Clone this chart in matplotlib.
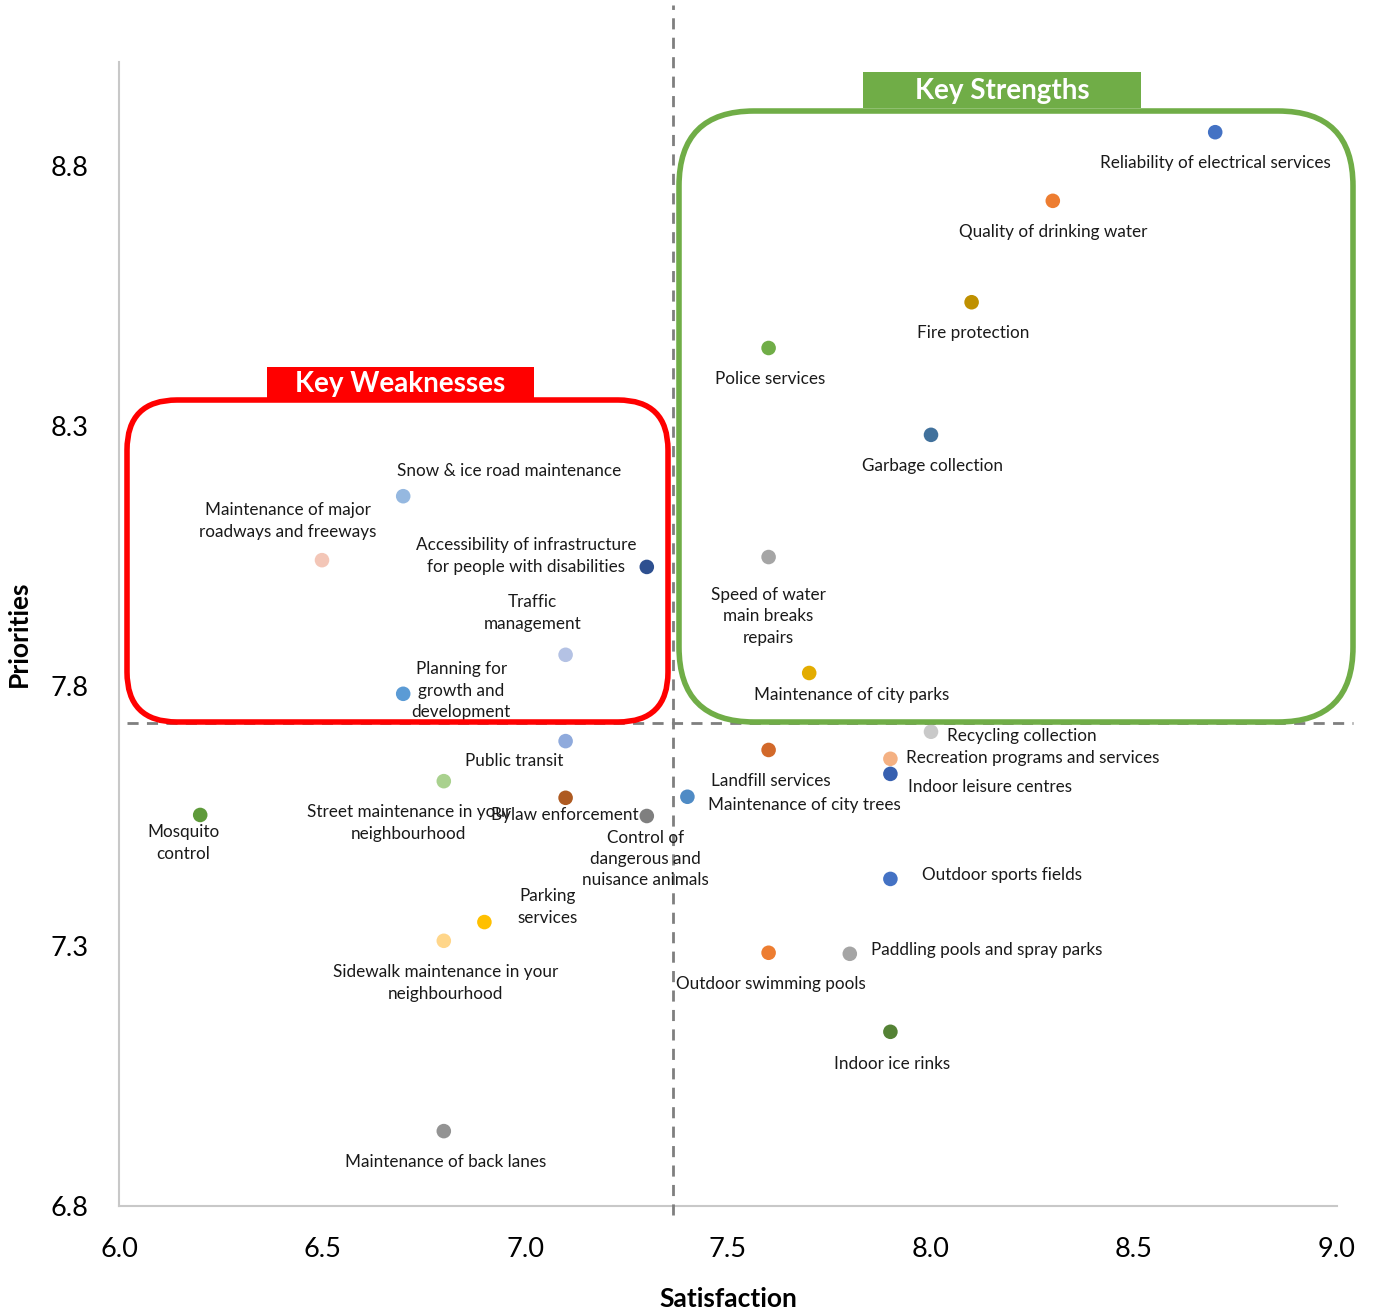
import matplotlib
matplotlib.use("Agg")
import matplotlib.pyplot as plt
from matplotlib.patches import FancyBboxPatch, Rectangle
from matplotlib.transforms import IdentityTransform

plt.rcParams['font.family'] = ['Lato', 'DejaVu Sans']

# ---- data ----
labels = [
    "Reliability of electrical services", "Quality of drinking water", "Fire protection",
    "Police services", "Garbage collection", "Speed of water\nmain breaks\nrepairs",
    "Maintenance of city parks", "Recycling collection", "Recreation programs and services",
    "Indoor leisure centres", "Landfill services", "Maintenance of city trees",
    "Outdoor sports fields", "Paddling pools and spray parks", "Outdoor swimming pools",
    "Indoor ice rinks", "Snow & ice road maintenance", "Maintenance of major\nroadways and freeways",
    "Accessibility of infrastructure\nfor people with disabilities", "Traffic\nmanagement",
    "Planning for\ngrowth and\ndevelopment", "Public transit", "Street maintenance in your\nneighbourhood",
    "Bylaw enforcement", "Control of\ndangerous and\nnuisance animals", "Mosquito\ncontrol",
    "Parking\nservices", "Sidewalk maintenance in your\nneighbourhood", "Maintenance of back lanes",
]
satisfaction = [8.70, 8.30, 8.10, 7.60, 8.00, 7.60, 7.70, 8.00, 7.90, 7.90, 7.60, 7.40,
                7.90, 7.80, 7.60, 7.90, 6.70, 6.50, 7.30, 7.10, 6.70, 7.10, 6.80, 7.10,
                7.30, 6.20, 6.90, 6.80, 6.80]
priorities = [8.865, 8.733, 8.538, 8.45, 8.283, 8.048, 7.825, 7.712, 7.66, 7.631, 7.677, 7.587,
              7.429, 7.285, 7.287, 7.135, 8.165, 8.042, 8.029, 7.86, 7.785, 7.694, 7.617, 7.585,
              7.55, 7.552, 7.346, 7.31, 6.944]
mean_satisfaction = 7.365
mean_priority = 7.729
xticks = [6.0, 6.5, 7.0, 7.5, 8.0, 8.5, 9.0]
yticks = [6.8, 7.3, 7.8, 8.3, 8.8]

# ---- styles ----
colors = ["#4472C4", "#ED7D31", "#BF9000", "#70AD47", "#41719C", "#A5A5A5", "#E3AC00",
          "#C9C9C9", "#F4B183", "#3760B0", "#D2692A", "#4F8BC5", "#4472C4", "#A5A5A5",
          "#ED7D31", "#548235", "#95B8E0", "#F3C6B7", "#2E5090", "#B4C2E4", "#5B9BD5",
          "#8FAADC", "#A9D18E", "#AE5A21", "#7F7F7F", "#5E9A3A", "#FFC000", "#FFD68A", "#939393"]
# label offsets in pixels (dx, dy), horizontal alignment
offsets = [(0, -31, 'center'), (0, -31, 'center'), (2, -31, 'center'), (2, -31, 'center'),
           (1, -31, 'center'), (0, -59, 'center'), (42, -22, 'center'), (16, -4, 'left'),
           (16, 1, 'left'), (18, -13, 'left'), (2, -31, 'center'), (21, -8, 'left'),
           (32, 4, 'left'), (21, 4, 'left'), (2, -31, 'center'), (2, -32, 'center'),
           (106, 25, 'center'), (-34, 39, 'center'), (-121, 11, 'center'), (-33, 42, 'center'),
           (58, 3, 'center'), (-51, -20, 'center'), (-35, -42, 'center'), (-1, -17, 'center'),
           (-1, -43, 'center'), (-17, -28, 'center'), (63, 15, 'center'), (2, -42, 'center'),
           (2, -31, 'center')]

W, H = 1375, 1308
fig = plt.figure(figsize=(W / 100, H / 100), dpi=100)
ax = fig.add_axes([119 / W, 1 - 1206 / H, (1337 - 119) / W, (1206 - 62) / H])
ax.set_xlim(6.0, 9.0)
ax.set_ylim(6.8, 9.0)

def px(x, y):
    return (x, H - y)

# rounded boxes (pixel coords)
red_box = FancyBboxPatch(px(127, 722), 668 - 127, 722 - 400,
                         boxstyle="round,pad=0,rounding_size=50",
                         transform=IdentityTransform(), fill=False,
                         edgecolor="#FF0000", linewidth=4, zorder=1)
green_box = FancyBboxPatch(px(679, 722), 1353 - 679, 722 - 111,
                           boxstyle="round,pad=0,rounding_size=75",
                           transform=IdentityTransform(), fill=False,
                           edgecolor="#70AD47", linewidth=4, zorder=1)
fig.patches.extend([red_box, green_box])
red_lab = Rectangle(px(267, 400), 534 - 267, 400 - 367, transform=IdentityTransform(),
                    facecolor="#FF0000", edgecolor="none", zorder=2)
green_lab = Rectangle(px(863, 108), 1141 - 863, 108 - 72, transform=IdentityTransform(),
                      facecolor="#70AD47", edgecolor="none", zorder=2)
fig.patches.extend([red_lab, green_lab])
fig.text(400 / W, 1 - 384 / H, "Key Weaknesses", color="white", fontsize=20,
         fontweight="bold", ha="center", va="center")
fig.text(1002 / W, 1 - 91 / H, "Key Strengths", color="white", fontsize=20,
         fontweight="bold", ha="center", va="center")

# mean lines
ax.plot([mean_satisfaction, mean_satisfaction], [6.783, 9.11], ls=(0, (4, 3)),
        color="#7F7F7F", lw=2, clip_on=False, zorder=3)
ax.plot([6.02, 9.04], [mean_priority, mean_priority], ls=(0, (4, 3)),
        color="#7F7F7F", lw=2, clip_on=False, zorder=3)

ax.scatter(satisfaction, priorities, s=110, c=colors, zorder=4, linewidths=0)
for lab, x, y, (dx, dy, ha) in zip(labels, satisfaction, priorities, offsets):
    ax.annotate(lab, (x, y), xytext=(dx, dy), textcoords="offset pixels",
                ha=ha, va="center", fontsize=12.3, color="#1a1a1a",
                linespacing=1.42, multialignment="center", zorder=5)

ax.set_xticks(xticks)
ax.set_xticklabels([f"{v:.1f}" for v in xticks])
ax.set_yticks(yticks)
ax.set_yticklabels([f"{v:.1f}" for v in yticks])
ax.tick_params(length=0, labelsize=19.5, pad=22)
for s in ["top", "right"]:
    ax.spines[s].set_visible(False)
for s in ["left", "bottom"]:
    ax.spines[s].set_color("#C8C8C8")
    ax.spines[s].set_linewidth(1.5)
ax.set_xlabel("Satisfaction", fontsize=19, fontweight="bold", labelpad=18)
ax.set_ylabel("Priorities", fontsize=19, fontweight="bold", labelpad=14)

fig.savefig("out.png", dpi=100)
